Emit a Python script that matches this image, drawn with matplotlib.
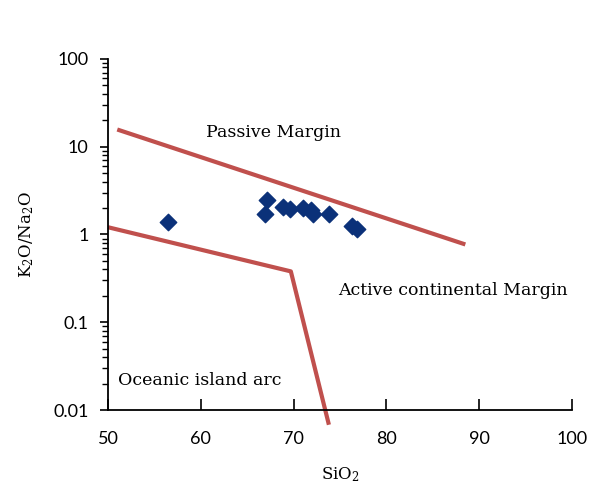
import matplotlib.pyplot as plt
from matplotlib.ticker import LogLocator, NullFormatter

# samples
sio2 = [56.5, 67.1, 66.9, 68.9, 69.6, 71.0, 71.9, 72.1, 73.8, 76.3, 76.8]
k2o_na2o = [1.38, 2.5, 1.69, 2.07, 1.96, 2.01, 1.89, 1.73, 1.72, 1.24, 1.16]

# field boundaries
upper_x = [51.0, 88.5]
upper_y = [15.7, 0.77]
lower_x = [50.0, 69.7, 73.8]
lower_y = [1.21, 0.38, 0.0068]

serif = 'DejaVu Serif'
sans = 'Lato'

fig = plt.figure(figsize=(5.91, 4.87), dpi=100)
ax = fig.add_axes([0.1827, 0.158, 0.7853, 0.721])

ax.plot(upper_x, upper_y, color='#C0504D', lw=3, solid_capstyle='butt')
ax.plot(lower_x, lower_y, color='#C0504D', lw=3, solid_capstyle='butt', clip_on=False)
ax.scatter(sio2, k2o_na2o, marker='D', s=70, color='#0B3179', zorder=3)

ax.set_yscale('log')
ax.set_xlim(50, 100)
ax.set_ylim(0.01, 100)
ax.set_xticks([50, 60, 70, 80, 90, 100])
ax.set_yticks([0.01, 0.1, 1, 10, 100])
ax.set_yticklabels(['0.01', '0.1', '1', '10', '100'])
ax.yaxis.set_minor_locator(LogLocator(base=10, subs=range(2, 10)))
ax.yaxis.set_minor_formatter(NullFormatter())

for s in ['top', 'right']:
    ax.spines[s].set_visible(False)
for s in ['left', 'bottom']:
    ax.spines[s].set_linewidth(1.3)
ax.tick_params(axis='x', direction='in', length=8, width=1.2, pad=15)
ax.tick_params(axis='y', which='major', direction='out', length=6, width=1.2, pad=8)
ax.tick_params(axis='y', which='minor', direction='out', length=4, width=1.0)
for lab in ax.get_xticklabels() + ax.get_yticklabels():
    lab.set_fontfamily(sans)
    lab.set_fontsize(13)

ax.set_xlabel(r'$\mathregular{SiO_2}$', fontfamily=serif, fontsize=12, labelpad=13)
ax.set_ylabel(r'$\mathregular{K_2O/Na_2O}$', fontfamily=serif, fontsize=12, labelpad=12)

ax.text(60.6, 14.5, 'Passive Margin', fontfamily=serif, fontsize=12.5, va='center')
ax.text(74.8, 0.23, 'Active continental Margin', fontfamily=serif, fontsize=12.5, va='center')
ax.text(51.1, 0.0217, 'Oceanic island arc', fontfamily=serif, fontsize=12.5, va='center')

fig.savefig('out.png', dpi=100)
